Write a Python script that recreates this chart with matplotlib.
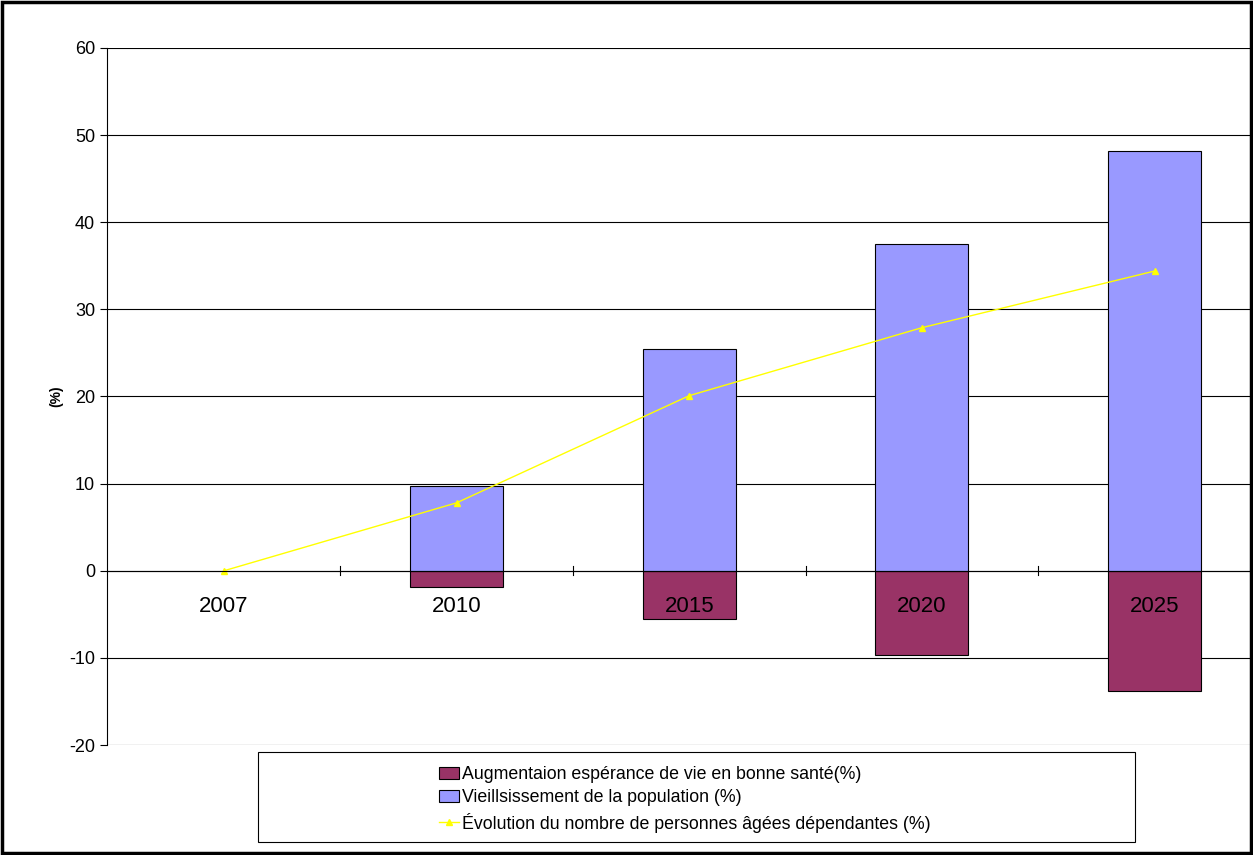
import matplotlib.pyplot as plt
from matplotlib.patches import Rectangle

years = ['2007', '2010', '2015', '2020', '2025']
esperance = [0, -1.9, -5.5, -9.7, -13.8]
vieillissement = [0, 9.7, 25.5, 37.5, 48.2]
dependantes = [0, 7.8, 20.1, 27.9, 34.4]

plt.rcParams['font.family'] = ['Liberation Sans', 'DejaVu Sans']
plt.rcParams['axes.unicode_minus'] = False

fig = plt.figure(figsize=(12.53, 8.55), dpi=100)
fig.patches.append(Rectangle((0.0015, 0.002), 0.997, 0.996, transform=fig.transFigure,
                             fill=False, edgecolor='black', linewidth=2.5))
ax = fig.add_axes([107 / 1253, 1 - 745 / 855, (1250 - 107) / 1253, (745 - 48) / 855])

x = list(range(len(years)))
b1 = ax.bar(x[1:], esperance[1:], width=0.4, color='#993366', edgecolor='black', linewidth=0.8,
            label='Augmentaion espérance de vie en bonne santé(%)', zorder=3)
b2 = ax.bar(x[1:], vieillissement[1:], width=0.4, color='#9999ff', edgecolor='black', linewidth=0.8,
            label='Vieillsissement de la population (%)', zorder=3)
l1, = ax.plot(x, dependantes, color='#ffff00', marker='^', markersize=5, linewidth=1,
              label='Évolution du nombre de personnes âgées dépendantes (%)', zorder=4)

ax.set_xlim(-0.503, 4.41)
ax.set_ylim(-20, 60)
ax.set_yticks(range(-20, 61, 10))
ax.yaxis.grid(True, color='black', linewidth=0.8, zorder=0)
ax.axhline(0, color='black', linewidth=0.8, zorder=5)
ax.set_xticks([])
for b in [0.5, 1.5, 2.5, 3.5]:
    ax.plot([b, b], [-0.5, 0.5], color='black', linewidth=0.8, zorder=5, clip_on=False)
for xi, y in zip(x, years):
    ax.text(xi, -4.1, y, ha='center', va='center', fontsize=16, zorder=6)
for s in ['top', 'right', 'bottom']:
    ax.spines[s].set_visible(False)
ax.tick_params(axis='y', labelsize=13, length=5)
ax.set_ylabel('(%)', fontsize=10, fontweight='bold')

fig.patches.append(Rectangle((258 / 1253, 1 - 842 / 855), (1135 - 258) / 1253, 90 / 855,
                             transform=fig.transFigure, fill=False, edgecolor='black',
                             linewidth=0.8))
leg = fig.legend([b1, b2, l1], [b1.get_label(), b2.get_label(), l1.get_label()],
                 loc='upper left', bbox_to_anchor=(425 / 1253, 1 - 752 / 855),
                 fontsize=12.8, frameon=False,
                 borderpad=0.3, handlelength=1.1, handletextpad=0.2, labelspacing=0.35)

fig.savefig('out.png', dpi=100)
